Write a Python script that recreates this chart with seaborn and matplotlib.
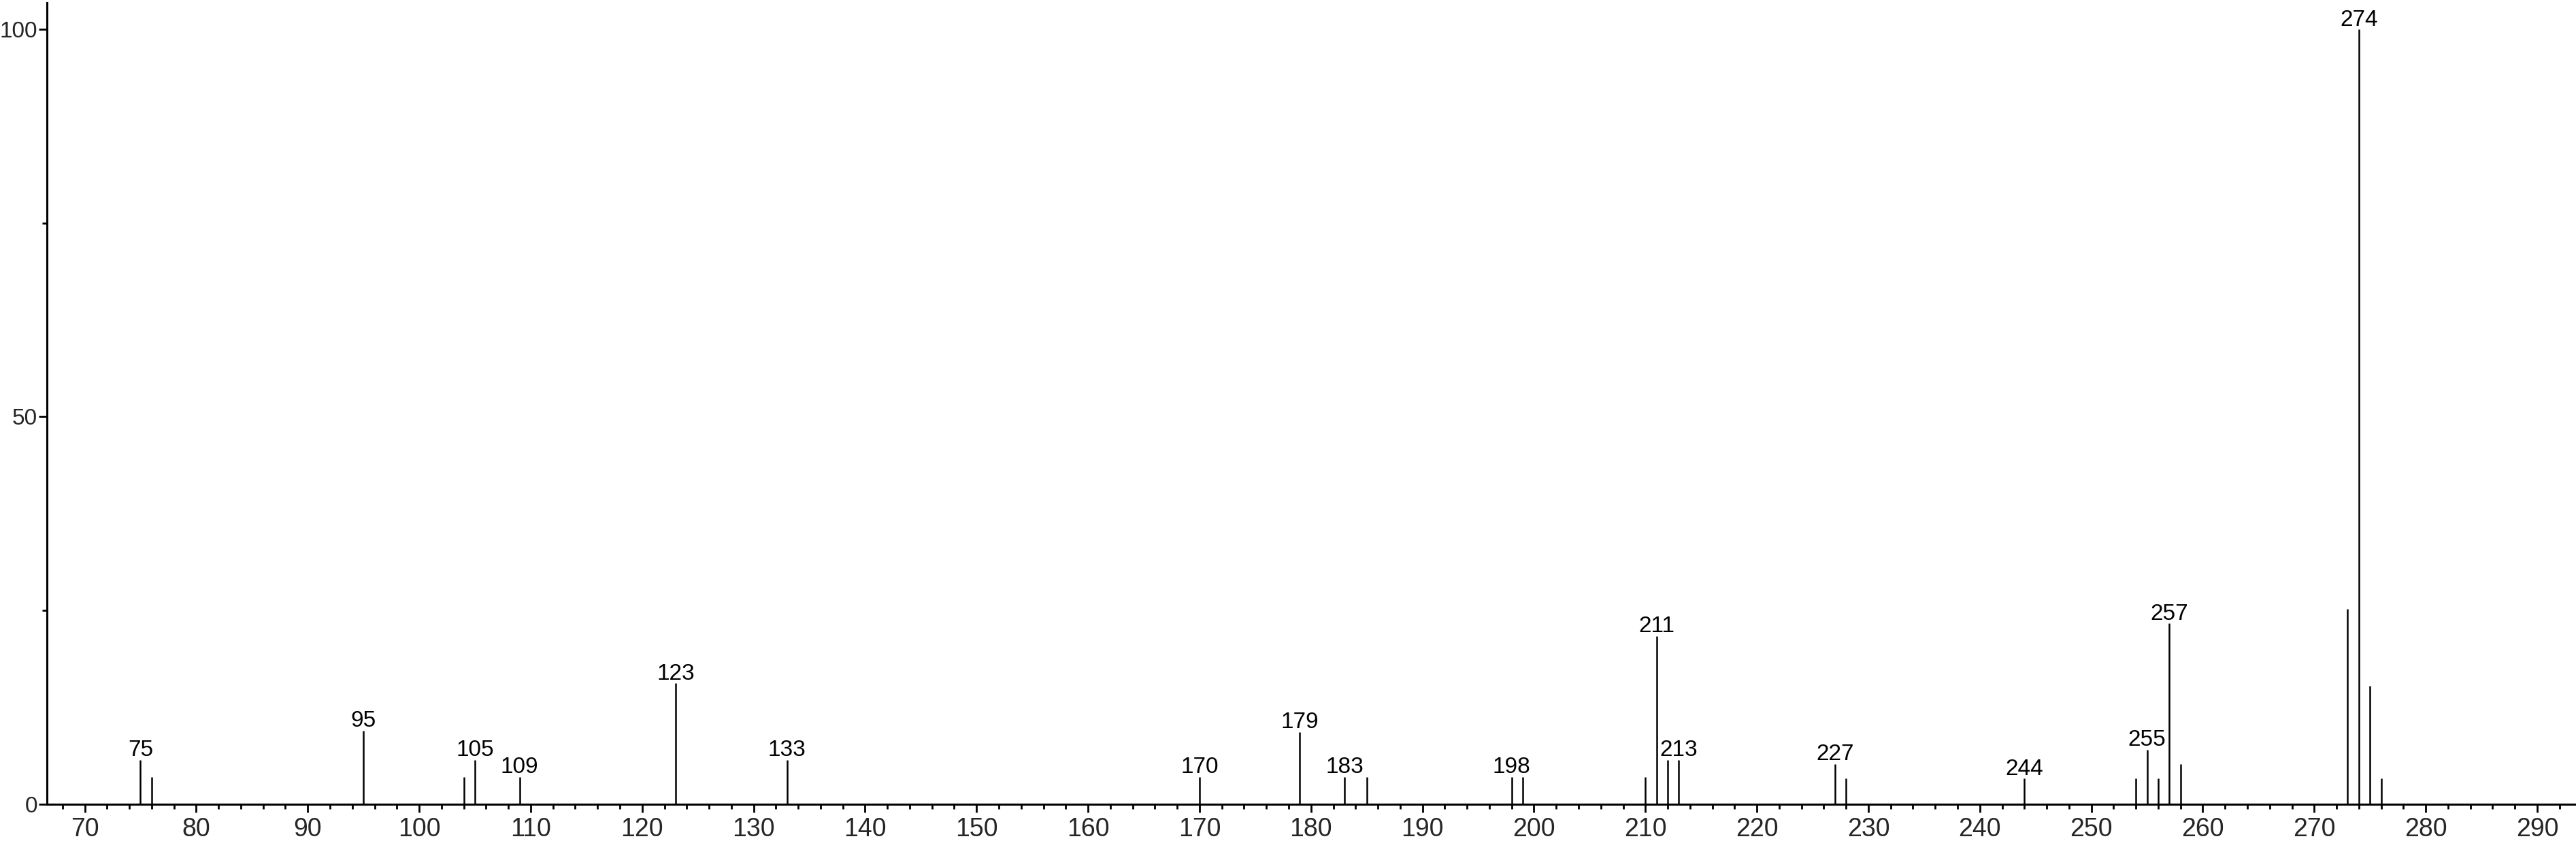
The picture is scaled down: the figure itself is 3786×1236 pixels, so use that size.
import numpy as np
import pandas as pd
import matplotlib
matplotlib.use("Agg")
import matplotlib.pyplot as plt
from matplotlib.ticker import MultipleLocator
import seaborn as sns

sns.set_style("ticks")
plt.rcParams['font.family'] = ['Liberation Sans', 'DejaVu Sans']

# mass spectrum peaks (m/z, relative intensity %)
mz = [75, 76, 95, 104, 105, 109, 123, 133, 170, 179, 183, 185, 198, 199,
      210, 211, 212, 213, 227, 228, 244, 254, 255, 256, 257, 258,
      273, 274, 275, 276]
intensity = [5.7, 3.5, 9.5, 3.5, 5.7, 3.5, 15.6, 5.7, 3.5, 9.3, 3.5, 3.5, 3.5, 3.5,
             3.5, 21.7, 5.7, 5.7, 5.2, 3.3, 3.3, 3.3, 7.0, 3.3, 23.3, 5.2,
             25.2, 100, 15.3, 3.3]
# peaks that carry a label
labeled = [75, 95, 105, 109, 123, 133, 170, 179, 183, 198, 211, 213,
           227, 244, 255, 257, 274]

df = pd.DataFrame({"mz": mz, "intensity": intensity})

W, H = 3786, 1236
fig = plt.figure(figsize=(W / 100, H / 100), dpi=100)
ax = fig.add_axes([69 / W, 54.3 / H, 1 - 69 / W, (1181.7 - 4) / H])

ax.vlines(df["mz"], 0, df["intensity"], color="black", lw=1.8)

for m in labeled:
    h = df.loc[df["mz"] == m, "intensity"].iloc[0]
    ax.annotate(str(m), (m, h), xytext=(0, 4), textcoords="offset points",
                ha="center", va="baseline", fontsize=24, color="black")

ax.set_xlim(66.61, 293.48)
ax.set_ylim(0, 103.45)
ax.xaxis.set_major_locator(MultipleLocator(10))
ax.xaxis.set_minor_locator(MultipleLocator(2))
ax.yaxis.set_major_locator(MultipleLocator(50))
ax.yaxis.set_minor_locator(MultipleLocator(25))

ax.tick_params(axis="both", which="major", length=8.6, width=2, color="black")
ax.tick_params(axis="both", which="minor", length=4.8, width=2, color="black")
ax.tick_params(axis="y", which="major", labelsize=24, pad=1.5)
ax.tick_params(axis="x", which="major", pad=5)
for lab in ax.get_xticklabels():
    lab.set_family(['Liberation Sans Narrow', 'Liberation Sans', 'DejaVu Sans'])
    lab.set_fontsize(27)

sns.despine(ax=ax)
for s in ["left", "bottom"]:
    ax.spines[s].set_linewidth(2.2)
    ax.spines[s].set_color("black")

ax.set_xlabel("")
ax.set_ylabel("")
fig.savefig("out.png", dpi=100)
